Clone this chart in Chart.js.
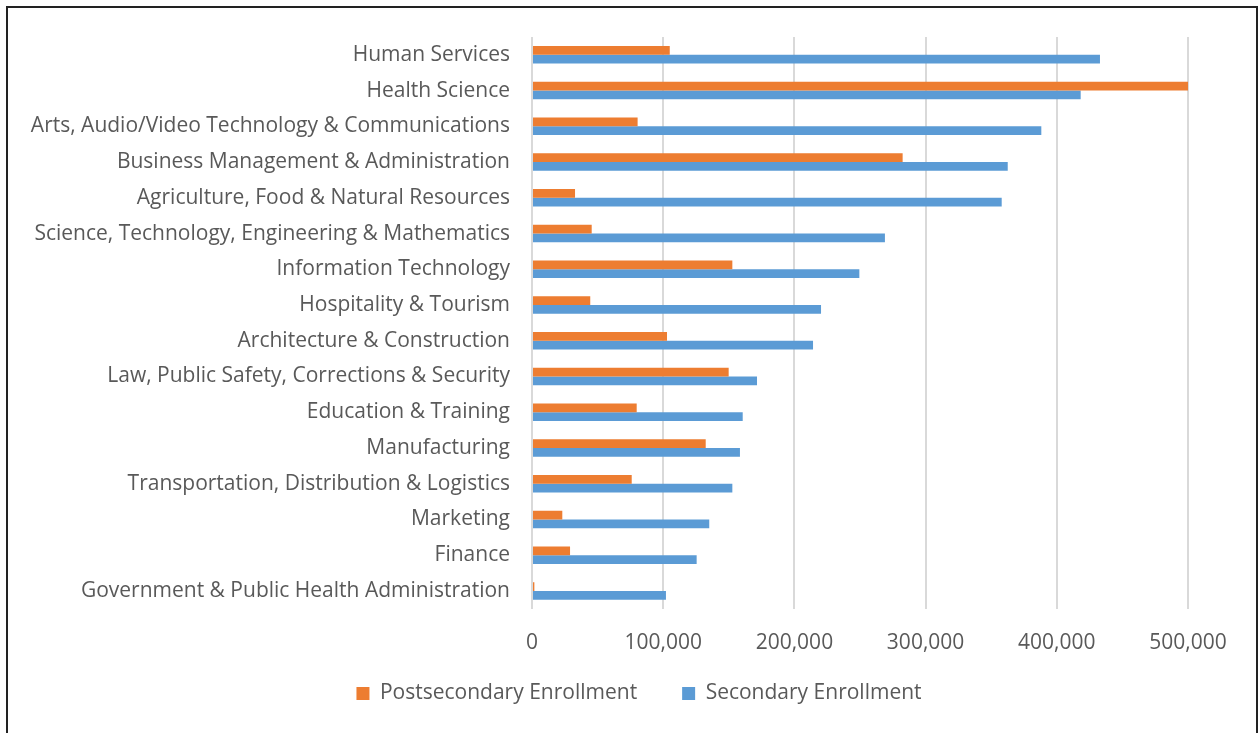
<!DOCTYPE html>
<html>
<head>
<meta charset="utf-8">
<title>Enrollment by Career Cluster</title>
<script src="https://cdn.jsdelivr.net/npm/chart.js@4"></script>
<style>
  html, body { margin: 0; padding: 0; background: #fff; overflow: hidden; }
  #wrap { position: absolute; left: 0; top: 0; width: 1259px; height: 733px; }
  #frame { position: absolute; left: 6px; top: 6px; width: 1252px; height: 740px; border: 2px solid #222; box-sizing: border-box; pointer-events: none; }
</style>
</head>
<body>
<div id="wrap"><canvas id="chart"></canvas></div>
<div id="frame"></div>
<script>
// career clusters, top to bottom
const clusters = [
    'Human Services',
    'Health Science',
    'Arts, Audio/Video Technology & Communications',
    'Business Management & Administration',
    'Agriculture, Food & Natural Resources',
    'Science, Technology, Engineering & Mathematics',
    'Information Technology',
    'Hospitality & Tourism',
    'Architecture & Construction',
    'Law, Public Safety, Corrections & Security',
    'Education & Training',
    'Manufacturing',
    'Transportation, Distribution & Logistics',
    'Marketing',
    'Finance',
    'Government & Public Health Administration'
];

const postsecondary = [105000, 500000, 80500, 282500, 32800, 45500, 152700, 44400,
    102900, 149900, 79800, 132400, 76000, 23100, 29000, 1800];

const secondary = [432900, 418200, 388200, 362600, 358000, 269000, 249500, 220300,
    214200, 171500, 160600, 158500, 152700, 135100, 125500, 102100];

const xTicks = [0, 100000, 200000, 300000, 400000, 500000];

const FONT = '"Open Sans", sans-serif';
const TEXT = '#595959';

// nudge the legend row: up and a bit to the right, like the original
const legendNudge = {
    id: 'legendNudge',
    afterLayout(chart) {
        const lg = chart.legend;
        if (!lg) return;
        lg.top -= 40; lg.bottom -= 40;
        lg.left += 35; lg.right += 35;
    }
};

const ctx = document.getElementById('chart').getContext('2d');
new Chart(ctx, {
    type: 'bar',
    data: {
        labels: clusters,
        datasets: [
            { label: 'Postsecondary Enrollment', data: postsecondary, backgroundColor: '#ED7D31' },
            { label: 'Secondary Enrollment', data: secondary, backgroundColor: '#5B9BD5' }
        ]
    },
    options: {
        indexAxis: 'y',
        responsive: true,
        maintainAspectRatio: false,
        animation: false,
        datasets: { bar: { categoryPercentage: 0.49, barPercentage: 1.0 } },
        layout: { padding: { left: 20, right: 71, top: 37, bottom: -21 } },
        scales: {
            x: {
                min: 0,
                max: 500000,
                afterBuildTicks: (scale) => { scale.ticks = xTicks.map(v => ({ value: v })); },
                grid: { color: '#d9d9d9', lineWidth: 2, drawTicks: false },
                border: { display: false },
                ticks: {
                    color: TEXT,
                    font: { family: FONT, size: 21 },
                    padding: 22,
                    maxRotation: 0,
                    callback: (v) => v.toLocaleString('en-US')
                }
            },
            y: {
                grid: { display: false, drawTicks: false },
                border: { display: false },
                afterFit: (scale) => { scale.width = 512; },
                ticks: {
                    color: TEXT,
                    font: { family: FONT, size: 21 },
                    padding: 22,
                    autoSkip: false
                }
            }
        },
        plugins: {
            tooltip: { enabled: false },
            legend: {
                position: 'bottom',
                labels: {
                    color: TEXT,
                    font: { family: FONT, size: 21 },
                    boxWidth: 13,
                    boxHeight: 13,
                    padding: 45
                }
            }
        }
    },
    plugins: [legendNudge]
});
</script>
</body>
</html>
